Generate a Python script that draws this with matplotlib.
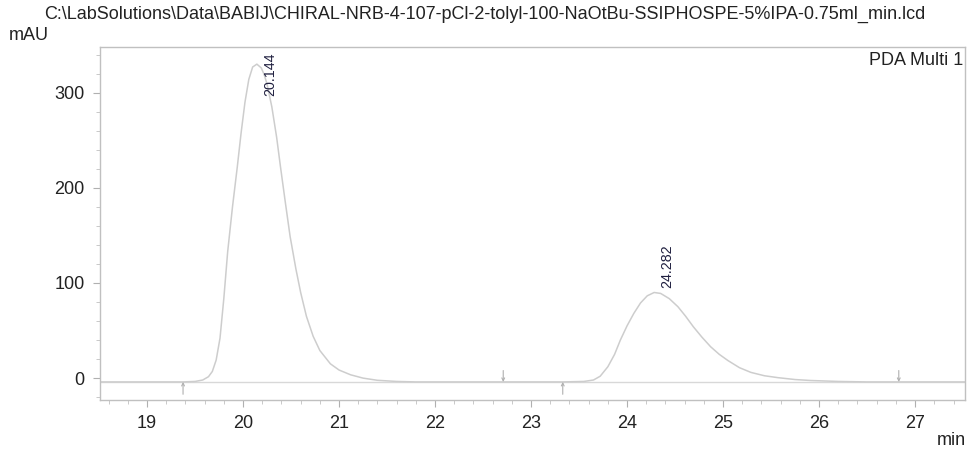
import matplotlib
matplotlib.use("Agg")
import matplotlib.pyplot as plt
from matplotlib.ticker import MultipleLocator

plt.rcParams['font.family'] = ['Liberation Sans', 'DejaVu Sans']

title = r"C:\LabSolutions\Data\BABIJ\CHIRAL-NRB-4-107-pCl-2-tolyl-100-NaOtBu-SSIPHOSPE-5%IPA-0.75ml_min.lcd"
channel = "PDA Multi 1"

# retention time (min) and absorbance (mAU)
time = [18.50, 19.00, 19.375, 19.50, 19.58, 19.64, 19.68, 19.72, 19.76, 19.80,
        19.84, 19.89, 19.94, 19.98, 20.02, 20.06, 20.10, 20.144, 20.19, 20.22,
        20.25, 20.30, 20.35, 20.39, 20.44, 20.49, 20.55, 20.60, 20.66, 20.73,
        20.80, 20.91, 21.00, 21.12, 21.25, 21.40, 21.60, 21.80, 22.71, 23.33,
        23.55, 23.65, 23.72, 23.80, 23.87, 23.93, 24.00, 24.07, 24.14, 24.21,
        24.282, 24.35, 24.44, 24.53, 24.61, 24.69, 24.78, 24.87, 24.96, 25.05,
        25.17, 25.29, 25.43, 25.57, 25.75, 25.91, 26.20, 26.50, 26.83, 27.52]
signal = [-4.0, -4.0, -4.0, -3.5, -2.0, 1.5, 7.0, 19.0, 42.0, 84.0,
          133.0, 180.0, 222.0, 258.0, 290.0, 314.0, 327.0, 330.0, 326.0, 319.0,
          309.0, 285.0, 253.0, 222.0, 185.0, 149.0, 115.0, 90.0, 65.0, 44.0,
          29.0, 15.0, 8.5, 3.5, 0.0, -2.3, -3.5, -4.0, -4.0, -4.0,
          -3.5, -2.0, 2.0, 12.0, 25.0, 40.0, 55.0, 68.0, 79.0, 86.5,
          90.0, 89.0, 83.5, 75.0, 65.0, 54.0, 43.0, 33.0, 25.0, 18.5,
          11.0, 6.0, 2.5, 0.5, -1.5, -2.5, -3.5, -4.0, -4.0, -4.0]

baseline = -4.0
peak_times = [20.144, 24.282]
peak_labels = ["20.144", "24.282"]
peak_label_y = [297, 95]

event_times = [19.375, 22.71, 23.33, 26.83]
event_up = [True, False, True, False]

fig = plt.figure(figsize=(9.69, 4.53), dpi=100)
ax = fig.add_axes([0.1032, 0.117, 0.8927, 0.7792])

gray = '#cdcdcd'
ax.axhline(baseline, color='#d8d8d8', lw=1.0, zorder=1)
ax.plot(time, signal, color=gray, lw=1.1, zorder=2)

for t, up in zip(event_times, event_up):
    if up:
        ax.annotate('', xy=(t, baseline), xytext=(t, baseline - 13),
                    arrowprops=dict(arrowstyle='->', color='#b0b0b0', lw=0.8,
                                    mutation_scale=5, shrinkA=0, shrinkB=0))
    else:
        ax.annotate('', xy=(t, baseline), xytext=(t, baseline + 12),
                    arrowprops=dict(arrowstyle='->', color='#b0b0b0', lw=0.8,
                                    mutation_scale=5, shrinkA=0, shrinkB=0))

for t, lab, ly in zip(peak_times, peak_labels, peak_label_y):
    ax.text(t + 0.14, ly, lab, rotation=90, ha='center', va='bottom',
            fontsize=10.3, color='#202040')

ax.set_xlim(18.51, 27.52)
ax.set_ylim(-23, 348)
ax.xaxis.set_major_locator(MultipleLocator(1))
ax.xaxis.set_minor_locator(MultipleLocator(0.2))
ax.yaxis.set_major_locator(MultipleLocator(100))
ax.yaxis.set_minor_locator(MultipleLocator(20))

for s in ['left', 'bottom', 'top', 'right']:
    ax.spines[s].set_color('#c0c0c0')
    ax.spines[s].set_linewidth(1.0)

ax.tick_params(axis='both', which='major', length=5, color='#b0b0b0',
               labelsize=13, labelcolor='#222222', pad=6)
ax.tick_params(axis='both', which='minor', length=3, color='#c0c0c0')

fig.text(0.5, 0.968, title, ha='center', va='center', fontsize=13, color='#222222')
fig.text(0.009, 0.921, "mAU", ha='left', va='center', fontsize=13, color='#222222')
fig.text(0.997, 0.028, "min", ha='right', va='center', fontsize=13, color='#222222')
ax.text(0.998, 0.985, channel, transform=ax.transAxes, ha='right', va='top',
        fontsize=13, color='#222222')

fig.savefig("out.png", dpi=100)
